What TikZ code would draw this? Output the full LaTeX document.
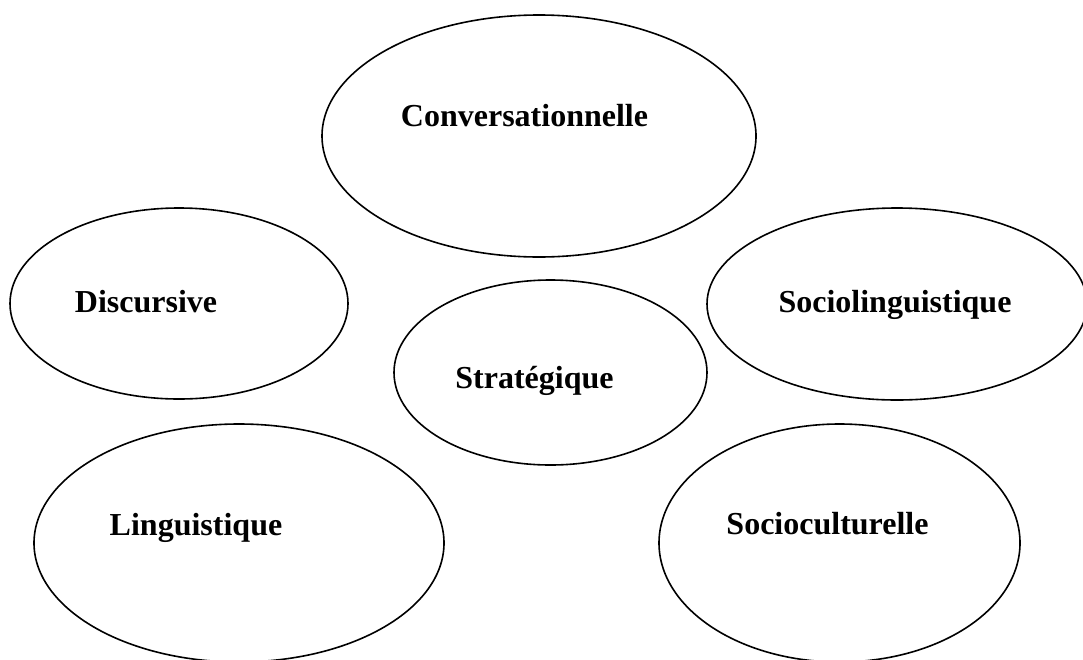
\documentclass[tikz,border=0pt]{standalone}
\usepackage{fontspec}
\setmainfont{Liberation Serif}
\usetikzlibrary{shapes.geometric}
\tikzset{
  oval/.style={draw=black, line width=1.6pt, ellipse, inner sep=0pt},
  lbl/.style={anchor=base, inner sep=0pt, font=\fontsize{32}{38}\selectfont\bfseries}
}
\begin{document}
\begin{tikzpicture}[x=1pt, y=-1pt]
\clip (0,0) rectangle (1083,659);
\fill[white] (0,0) rectangle (1083,659);
\node[oval, minimum width=434pt, minimum height=242pt] (conv) at (539,136) {};
\node[oval, minimum width=338pt, minimum height=191pt] (disc) at (179,303.5) {};
\node[oval, minimum width=380pt, minimum height=192pt] (socling) at (897,304) {};
\node[oval, minimum width=313pt, minimum height=185pt] (strat) at (550.5,372.5) {};
\node[oval, minimum width=410pt, minimum height=238pt] (ling) at (239,543) {};
\node[oval, minimum width=361pt, minimum height=238pt] (soccult) at (839.5,543) {};
\node[lbl] (tconv) at (524.5,126) {Conversationnelle};
\node[lbl] (tdisc) at (146,312) {Discursive};
\node[lbl] (tsocling) at (895,312) {Sociolinguistique};
\node[lbl] (tstrat) at (534.5,388) {Stratégique};
\node[lbl] (tling) at (196,535) {Linguistique};
\node[lbl] (tsoccult) at (827.5,534) {Socioculturelle};
\end{tikzpicture}
\end{document}
